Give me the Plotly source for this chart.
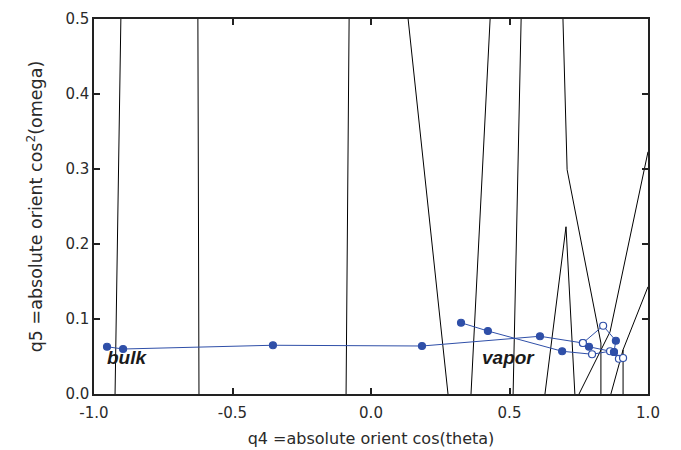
import plotly.graph_objects as go

# ---- data ----
# blue series A (bulk -> cluster)
a_x = [-0.953, -0.895, -0.354, 0.184, 0.610, 0.765, 0.787, 0.877, 0.895]
a_y = [0.063, 0.060, 0.065, 0.064, 0.077, 0.068, 0.063, 0.056, 0.047]
a_open = [False, False, False, False, False, True, False, False, True]

# blue series B (vapor -> cluster)
b_x = [0.325, 0.422, 0.690, 0.798, 0.863, 0.910]
b_y = [0.095, 0.084, 0.057, 0.053, 0.057, 0.048]
b_open = [False, False, False, True, True, True]

# blue series C (cluster)
c_x = [0.765, 0.838, 0.884, 0.877]
c_y = [0.068, 0.091, 0.071, 0.056]
c_open = [True, True, False, False]

# black line polylines (None separates pieces)
k_x = [-0.903, -0.924, None,
       -0.625, -0.621, None,
       -0.079, -0.090, None,
       0.134, 0.278, None,
       0.430, 0.361, None,
       0.542, 0.513, None,
       0.693, 0.708, 0.830, 0.830, None,
       0.628, 0.704, 0.736, None,
       1.000, 0.863, 0.751, None,
       1.000, 0.910, 0.866, None,
       0.910, 0.910]
k_y = [0.5, 0.0, None,
       0.5, 0.0, None,
       0.5, 0.0, None,
       0.5, 0.0, None,
       0.5, 0.0, None,
       0.5, 0.0, None,
       0.5, 0.299, 0.068, 0.0, None,
       0.0, 0.223, 0.0, None,
       0.323, 0.083, 0.0, None,
       0.143, 0.059, 0.0, None,
       0.059, 0.0]

labels = [("bulk", -0.960, 0.049, "left"),
          ("vapor", 0.498, 0.049, "center"),
          ("GD", 1.016, 0.069, "left")]

x_ticks = [-1.0, -0.5, 0.0, 0.5, 1.0]
x_tick_text = ["-1.0", "-0.5", "0.0", "0.5", "1.0"]
y_ticks = [0.0, 0.1, 0.2, 0.3, 0.4, 0.5]
y_tick_text = ["0.0", "0.1", "0.2", "0.3", "0.4", "0.5"]

BLUE = "#2f4fa8"
TXT = "#2a2a2a"

fig = go.Figure()
fig.add_trace(go.Scatter(x=k_x, y=k_y, mode="lines",
                         line=dict(color="black", width=1),
                         connectgaps=False, showlegend=False, hoverinfo="skip"))

for xs, ys, op in [(a_x, a_y, a_open), (b_x, b_y, b_open), (c_x, c_y, c_open)]:
    fig.add_trace(go.Scatter(
        x=xs, y=ys, mode="lines+markers",
        line=dict(color=BLUE, width=1),
        marker=dict(size=7, symbol="circle",
                    color=["white" if o else BLUE for o in op],
                    line=dict(color=BLUE, width=1.2)),
        showlegend=False, cliponaxis=False))

for txt, x, y, anc in labels:
    fig.add_annotation(x=x, y=y, text="<b><i>" + txt + "</i></b>", showarrow=False,
                       xanchor=anc, yanchor="middle",
                       font=dict(family="Liberation Sans", size=19, color="#1a1a1a"))

axis_common = dict(showline=True, linecolor="#222", linewidth=1.5, mirror="allticks",
                   ticks="inside", ticklen=6, tickwidth=1.5, tickcolor="#222",
                   showgrid=False, zeroline=False, automargin=False,
                   tickfont=dict(family="DejaVu Sans", size=15, color=TXT))

fig.update_xaxes(range=[-1, 1], tickvals=x_ticks, ticktext=x_tick_text,
                 ticklabelstandoff=4,
                 title=dict(text="q4 =absolute orient cos(theta)",
                            font=dict(family="DejaVu Sans", size=16, color=TXT),
                            standoff=12),
                 **axis_common)
fig.update_yaxes(range=[0, 0.5], tickvals=y_ticks, ticktext=y_tick_text,
                 title=dict(text="q5 =absolute orient cos<sup>2</sup>(omega)",
                            font=dict(family="DejaVu Sans", size=17.5, color=TXT),
                            standoff=18),
                 **axis_common)

fig.update_layout(width=681, height=450, margin=dict(l=94, r=33, t=19, b=56),
                  plot_bgcolor="white", paper_bgcolor="white")

fig.write_html("out.html")
